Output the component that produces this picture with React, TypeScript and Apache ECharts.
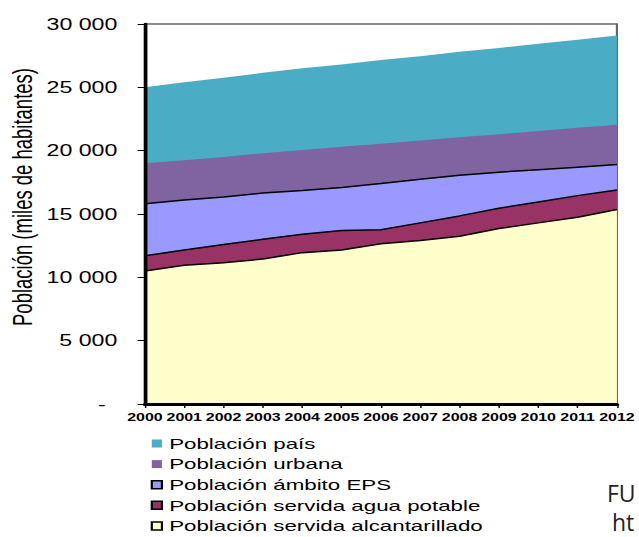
import React, { useEffect, useRef } from 'react';
import * as echarts from 'echarts';

const years = ['2000', '2001', '2002', '2003', '2004', '2005', '2006', '2007', '2008', '2009', '2010', '2011', '2012'];

const poblacionPais = [25000, 25400, 25750, 26150, 26500, 26800, 27150, 27450, 27800, 28100, 28450, 28750, 29100];
const poblacionUrbana = [19000, 19250, 19500, 19800, 20050, 20300, 20550, 20800, 21050, 21300, 21550, 21800, 22050];
const poblacionEPS = [15800, 16100, 16350, 16650, 16850, 17100, 17400, 17750, 18050, 18300, 18500, 18700, 18900];
const poblacionAgua = [11700, 12150, 12600, 13000, 13400, 13700, 13750, 14300, 14850, 15450, 15950, 16450, 16900];
const poblacionAlcantarillado = [10500, 10950, 11150, 11450, 11950, 12150, 12650, 12900, 13250, 13850, 14300, 14750, 15350];

const seriesNames = [
  'Población país',
  'Población urbana',
  'Población ámbito EPS',
  'Población servida agua potable',
  'Población servida alcantarillado',
];
const fillColors = ['#4BACC6', '#8064A2', '#9999FF', '#993366', '#FFFFCC'];
const outlined = [false, false, true, true, true];

const yAxisTitle = 'Población (miles de habitantes)';

// the reference picture is stretched horizontally; draw at a narrower width and stretch
const FULL_W = 639;
const H = 537;
const W = 441;
const K = FULL_W / W;

export default function App() {
  const ref = useRef<HTMLDivElement>(null);

  useEffect(() => {
    const chart = echarts.init(ref.current as HTMLDivElement, null, { renderer: 'svg' });
    const values = [poblacionPais, poblacionUrbana, poblacionEPS, poblacionAgua, poblacionAlcantarillado];
    chart.setOption({
      animation: false,
      backgroundColor: '#fff',
      grid: {
        left: 100,
        right: 12.4,
        top: 24,
        bottom: 133,
        show: true,
        borderColor: '#666',
        borderWidth: 1.5,
        backgroundColor: 'transparent',
      },
      xAxis: {
        type: 'category',
        data: years,
        boundaryGap: false,
        z: 5,
        axisLine: { show: true, lineStyle: { color: '#000', width: 3 } },
        axisTick: { show: true, length: 4, interval: 0, lineStyle: { color: '#000', width: 1 } },
        axisLabel: {
          interval: 0,
          margin: 8,
          fontSize: 11,
          fontWeight: 'bold',
          fontFamily: 'Liberation Sans, Arial, sans-serif',
          color: '#000',
        },
        splitLine: { show: false },
      },
      yAxis: {
        type: 'value',
        min: 0,
        max: 30000,
        interval: 5000,
        z: 5,
        axisLine: { show: true, lineStyle: { color: '#000', width: 2.5 } },
        axisTick: { show: true, length: 5, lineStyle: { color: '#000', width: 1 } },
        splitLine: { show: false },
        axisLabel: {
          margin: 19,
          fontSize: 16,
          fontFamily: 'Liberation Sans, Arial, sans-serif',
          color: '#000',
          formatter: (v: number) =>
            v === 0 ? '{z|-}' : String(v).replace(/\B(?=(\d{3})+(?!\d))/g, ' '),
          rich: {
            z: { fontSize: 16, fontFamily: 'Liberation Sans, Arial, sans-serif', color: '#000', padding: [0, 8, 0, 0] },
          },
        },
      },
      legend: {
        orient: 'vertical',
        left: 104,
        top: 436,
        padding: 0,
        itemWidth: 7,
        itemHeight: 8,
        itemGap: 5.6,
        textStyle: { fontSize: 15.4, fontFamily: 'Liberation Sans, Arial, sans-serif', color: '#000' },
        data: seriesNames.map((n, i) => ({
          name: n,
          icon: 'rect',
          itemStyle: {
            color: fillColors[i],
            borderColor: outlined[i] ? '#000' : fillColors[i],
            borderWidth: outlined[i] ? 1.5 : 0,
          },
        })),
      },
      graphic: [
        {
          type: 'text',
          x: 15.5,
          y: 197,
          rotation: Math.PI / 2,
          style: {
            text: yAxisTitle,
            fontSize: 18.5,
            fontFamily: 'Liberation Sans, Arial, sans-serif',
            fill: '#000',
            align: 'center',
            verticalAlign: 'middle',
          },
        },
        {
          type: 'text',
          x: 607 / K,
          y: 493,
          scaleX: 1 / K,
          style: { text: 'FU', fontSize: 23, fontFamily: 'Open Sans, sans-serif', fill: '#222', verticalAlign: 'middle' },
        },
        {
          type: 'text',
          x: 612 / K,
          y: 522,
          scaleX: 1 / K,
          style: { text: 'ht', fontSize: 23, fontFamily: 'Open Sans, sans-serif', fill: '#222', verticalAlign: 'middle' },
        },
      ],
      series: values.map((d, i) => ({
        name: seriesNames[i],
        type: 'line',
        data: d,
        symbol: 'none',
        showSymbol: false,
        smooth: false,
        itemStyle: { color: fillColors[i] },
        lineStyle: outlined[i] ? { color: '#000', width: 1.5 } : { width: 0, opacity: 0 },
        areaStyle: { color: fillColors[i], opacity: 1 },
        emphasis: { disabled: true },
      })),
    });
    return () => chart.dispose();
  }, []);

  return (
    <div style={{ position: 'fixed', left: 0, top: 0, width: FULL_W, height: H, overflow: 'hidden', background: '#fff' }}>
      <div
        ref={ref}
        style={{ width: W, height: H, transform: `scaleX(${K})`, transformOrigin: '0 0' }}
      />
    </div>
  );
}
